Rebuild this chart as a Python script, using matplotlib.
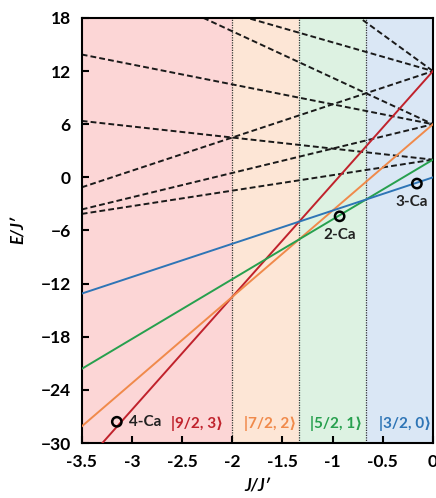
import numpy as np
import matplotlib
matplotlib.use("Agg")
import matplotlib.pyplot as plt

plt.rcParams['font.family'] = ['Lato', 'DejaVu Sans']
plt.rcParams['font.weight'] = 'bold'

# ground-state lines: E = slope * J/J' + intercept
solid_labels = ["|9/2, 3\u27e9", "|7/2, 2\u27e9", "|5/2, 1\u27e9", "|3/2, 0\u27e9"]
solid_slopes = [12.75, 9.75, 6.75, 3.75]
solid_inter = [12, 6, 2, 0]
solid_colors = ["#C0222C", "#F08A4B", "#27A04E", "#2E75B6"]

# excited states (dashed)
dash_slopes = [3.75, -3.25, -8.25, 2.75, -2.25, -5.25, 1.75, -1.25]
dash_inter = [12, 12, 12, 6, 6, 6, 2, 2]

# phase boundaries and region colours
bounds = [-3.5, -2.0, -4 / 3, -2 / 3, 0.0]
region_colors = ["#FCD6D6", "#FDE6D6", "#DDF2E2", "#DAE7F5"]
label_x = [-2.35, -1.62, -0.96, -0.28]

# experimental points
pt_names = ["4-Ca", "2-Ca", "3-Ca"]
pt_x = [-3.15, -0.93, -0.16]
pt_y = [-27.6, -4.4, -0.7]

fig = plt.figure(figsize=(4.36, 4.98), dpi=100)
ax = fig.add_axes([0.1874, 0.1104, 0.8056, 0.8535])

for i in range(4):
    ax.axvspan(bounds[i], bounds[i + 1], color=region_colors[i], lw=0, zorder=0)
for b in bounds[1:-1]:
    ax.axvline(b, color="#333333", lw=0.9, ls=(0, (1, 1)), zorder=1)

x = np.linspace(-3.5, 0, 200)
for s, c in zip(dash_slopes, dash_inter):
    ax.plot(x, s * x + c, color="#1a1a1a", lw=1.4, ls=(0, (3, 1.6)), zorder=2)
for s, c, col in zip(solid_slopes, solid_inter, solid_colors):
    ax.plot(x, s * x + c, color=col, lw=1.4, zorder=3)

for lab, lx, col in zip(solid_labels, label_x, solid_colors):
    ax.text(lx, -27.8, lab, color=col, fontsize=11, fontweight='bold',
            ha='center', va='center', zorder=5)

ax.scatter(pt_x, pt_y, s=45, facecolors='none', edgecolors='black', linewidths=1.8, zorder=6)
ax.text(pt_x[0] + 0.12, pt_y[0], pt_names[0], fontsize=11, fontweight='bold',
        color="#222222", ha='left', va='center', zorder=6)
ax.text(pt_x[1], pt_y[1] - 1.3, pt_names[1], fontsize=11, fontweight='bold',
        color="#222222", ha='center', va='top', zorder=6)
ax.text(pt_x[2] - 0.05, pt_y[2] - 1.3, pt_names[2], fontsize=11, fontweight='bold',
        color="#222222", ha='center', va='top', zorder=6)

ax.set_xlim(-3.5, 0)
ax.set_ylim(-30, 18)
ax.set_xticks([-3.5, -3, -2.5, -2, -1.5, -1, -0.5, 0])
ax.set_xticklabels(["-3.5", "-3", "-2.5", "-2", "-1.5", "-1", "-0.5", "0"])
ax.set_yticks([-30, -24, -18, -12, -6, 0, 6, 12, 18])
ax.tick_params(direction='in', length=5, width=1.5, labelsize=12.5, pad=8)
for lab in ax.get_xticklabels() + ax.get_yticklabels():
    lab.set_fontweight('bold')
for sp in ax.spines.values():
    sp.set_linewidth(1.5)

ax.set_xlabel("J/J\u2032", fontsize=12, fontweight='bold', style='italic', labelpad=6)
ax.set_ylabel("E/J\u2032", fontsize=12, fontweight='bold', style='italic', labelpad=10)

fig.savefig("out.png", dpi=100)
